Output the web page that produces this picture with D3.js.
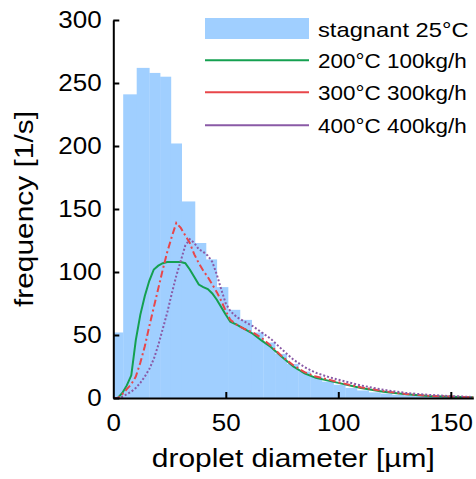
<!DOCTYPE html>
<html lang="en">
<head>
<meta charset="UTF-8">
<title>Droplet diameter frequency</title>
<script src="https://d3js.org/d3.v7.min.js"></script>
<style>
    body { margin: 0; background: #fff; }
    text { font-family: "Liberation Sans", Arial, sans-serif; fill: #000; }
</style>
</head>
<body>
<div id="chart"></div>
<script>
// histogram of stagnant case (bin edges in µm, frequency in 1/s)
var binEdges = [0, 4.4, 10.4, 16.0, 20.8, 25.6, 30.4, 36.3, 41.2, 46.0, 51.0, 56.3, 61.5, 66.7, 71.9, 77.1,
    82.3, 87.5, 92.7, 97.9, 103.1, 108.3, 113.5, 118.7, 123.9, 129.1, 134.3, 139.5, 144.7, 149.9, 155.1, 160];
var stagnant = [52, 241, 262, 258, 255, 202, 156, 123, 110, 88, 70, 62, 52, 44, 35, 27,
    21, 17, 13, 10.5, 8, 6, 4.5, 3.5, 2.5, 2, 1.5, 1, 0.8, 0.5, 0.3];

// curves, shared diameter grid
var diameter = [0, 2, 4, 6, 8, 10, 12, 14, 16, 18, 20, 22, 24, 26, 28, 30, 32, 34, 36, 38, 40, 42, 44, 46, 48, 50,
    52, 55, 58, 62, 66, 70, 75, 80, 85, 90, 95, 100, 110, 120, 130, 140, 150, 160];
var hot200 = [0, 0, 4, 10, 18, 46, 66, 81, 93, 102, 105, 107, 108, 108, 108, 108, 107, 102, 96, 90, 88, 86.5, 83, 78, 72, 66,
    60.5, 58, 55, 51, 45.5, 40.5, 32.5, 25, 19.5, 16, 14, 12, 8, 5, 3, 1.5, 1, 0.5];
var hot300 = [0, 0, 3, 7, 11, 17, 28, 41, 57, 72, 87, 102, 116, 128, 139, 135, 129, 123, 114, 107, 101, 96, 90, 84, 77, 69,
    62, 58, 55, 52, 47.5, 41.5, 33, 26, 20.5, 17, 15, 12.5, 8.5, 5.5, 3.2, 1.8, 1.1, 0.6];
var hot400 = [0, 0, 1, 3, 5, 8, 12, 17, 23, 31, 42, 55, 68, 83, 97, 109, 121, 126, 123, 118, 116, 113, 108, 98, 86, 75,
    69, 64, 61, 57, 52, 47, 38.5, 30.5, 24.5, 20, 17, 14.5, 10, 6.5, 4, 2.5, 1.5, 0.8];

var xTicks = [0, 50, 100, 150];
var yTicks = [0, 50, 100, 150, 200, 250, 300];
var legendLabels = ["stagnant 25\u00b0C", "200\u00b0C 100kg/h", "300\u00b0C 300kg/h", "400\u00b0C 400kg/h"];

var W = 476, H = 479;
var margin = {top: 20, right: 2.7, bottom: 81, left: 113.3};

var svg = d3.select("#chart").append("svg")
    .attr("width", W)
    .attr("height", H);

var x = d3.scaleLinear().domain([0, 160]).range([margin.left, W - margin.right]);
var y = d3.scaleLinear().domain([0, 300]).range([H - margin.bottom, margin.top]);

var blue = "#a0cfff",
    green = "#14a050",
    red = "#e8464a",
    purple = "#8a5aa6";

// bars
var bins = stagnant.map(function(v, i) {
    return {x0: binEdges[i], x1: binEdges[i + 1], v: v};
});
svg.append("g")
    .selectAll("rect")
    .data(bins)
    .join("rect")
    .attr("x", function(d) { return x(d.x0); })
    .attr("y", function(d) { return y(d.v); })
    .attr("width", function(d) { return x(d.x1) - x(d.x0) + 0.3; })
    .attr("height", function(d) { return y(0) - y(d.v); })
    .attr("fill", blue);

// lines
var line = d3.line()
    .x(function(d) { return x(d[0]); })
    .y(function(d) { return y(d[1]); });

var series = [
    {vals: hot200, color: green, dash: null},
    {vals: hot300, color: red, dash: "7,3,2,3"},
    {vals: hot400, color: purple, dash: "2,2"}
];
series.forEach(function(s) {
    svg.append("path")
        .datum(diameter.map(function(d, i) { return [d, s.vals[i]]; }))
        .attr("d", line)
        .attr("fill", "none")
        .attr("stroke", s.color)
        .attr("stroke-width", 2)
        .attr("stroke-dasharray", s.dash);
});

// axes
var sx = 1.13;
var xAxis = svg.append("g")
    .attr("transform", "translate(0," + y(0) + ")")
    .call(d3.axisBottom(x).tickValues(xTicks).tickSize(-6).tickSizeOuter(0).tickPadding(17));
var yAxis = svg.append("g")
    .attr("transform", "translate(" + x(0) + ",0)")
    .call(d3.axisLeft(y).tickValues(yTicks).tickSize(-6).tickSizeOuter(0).tickPadding(10.3));

[xAxis, yAxis].forEach(function(a) {
    a.select(".domain").attr("stroke", "#000").attr("stroke-width", 2);
    a.selectAll(".tick line").attr("stroke", "#000").attr("stroke-width", 2);
    a.selectAll(".tick text")
        .attr("font-family", "Liberation Sans, Arial, sans-serif")
        .attr("font-size", 23)
        .attr("fill", "#000")
        .attr("transform", "scale(" + sx + ",1)");
});
xAxis.selectAll(".tick").filter(function(d) { return d === 0; }).select("line").remove();

// axis labels
svg.append("text")
    .attr("transform", "translate(" + ((x(0) + x(160)) / 2) + ",467) scale(1.15,1)")
    .attr("text-anchor", "middle")
    .attr("font-size", 26)
    .text("droplet diameter [\u00b5m]");

svg.append("text")
    .attr("transform", "translate(33," + ((y(0) + y(300)) / 2) + ") rotate(-90) scale(1.15,1)")
    .attr("text-anchor", "middle")
    .attr("font-size", 26)
    .text("frequency [1/s]");

// legend
var lg = svg.append("g");
var lx0 = 205, lx1 = 309, rowY = [28.5, 60.3, 92.3, 125.3];
lg.append("rect")
    .attr("x", lx0).attr("y", 18)
    .attr("width", lx1 - lx0).attr("height", 21)
    .attr("fill", blue);
series.forEach(function(s, i) {
    lg.append("line")
        .attr("x1", lx0).attr("x2", lx1)
        .attr("y1", rowY[i + 1]).attr("y2", rowY[i + 1])
        .attr("stroke", s.color)
        .attr("stroke-width", 2);
});
legendLabels.forEach(function(t, i) {
    lg.append("text")
        .attr("transform", "translate(318," + (rowY[i] + 8) + ") scale(" + (i === 0 ? sx : 1.07) + ",1)")
        .attr("font-size", 21)
        .text(t);
});
</script>
</body>
</html>
